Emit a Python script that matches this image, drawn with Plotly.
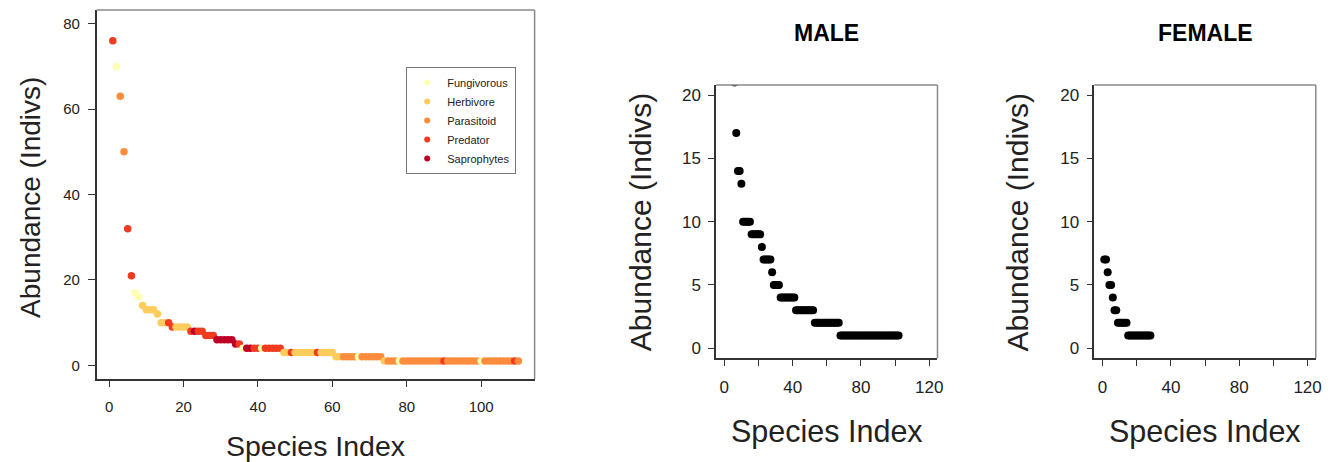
import plotly.graph_objects as go

# ---------------- data ----------------
groups = ["Fungivorous", "Herbivore", "Parasitoid", "Predator", "Saprophytes"]
group_colors = ["#FFFFB2", "#FECC5C", "#FD8D3C", "#F03B20", "#BD0026"]

# combined ranked abundance (species index 1..110)
abundance = [76, 70, 63, 50, 32, 21, 17, 16, 14, 13,
             13, 13, 12, 10, 10, 10, 9, 9, 9, 9,
             9, 8, 8, 8, 8, 7, 7, 7, 6, 6,
             6, 6, 6, 5, 5, 4, 4, 4, 4, 4,
             4, 4, 4, 4, 4, 4, 3, 3, 3, 3,
             3, 3, 3, 3, 3, 3, 3, 3, 3, 3,
             2, 2, 2, 2, 2, 2, 2, 2, 2, 2,
             2, 2, 2, 1, 1, 1, 1, 1, 1, 1,
             1, 1, 1, 1, 1, 1, 1, 1, 1, 1,
             1, 1, 1, 1, 1, 1, 1, 1, 1, 1,
             1, 1, 1, 1, 1, 1, 1, 1, 1, 1]
trophic_group = ["Predator", "Fungivorous", "Parasitoid", "Parasitoid", "Predator",
                 "Predator", "Fungivorous", "Fungivorous", "Herbivore", "Herbivore",
                 "Herbivore", "Herbivore", "Herbivore", "Herbivore", "Herbivore",
                 "Predator", "Predator", "Herbivore", "Herbivore", "Herbivore",
                 "Herbivore", "Predator", "Saprophytes", "Predator", "Predator",
                 "Predator", "Predator", "Predator", "Saprophytes", "Saprophytes",
                 "Saprophytes", "Saprophytes", "Saprophytes", "Saprophytes", "Predator",
                 "Fungivorous", "Saprophytes", "Saprophytes", "Predator", "Predator",
                 "Fungivorous", "Predator", "Predator", "Predator", "Predator",
                 "Predator", "Herbivore", "Herbivore", "Predator", "Herbivore",
                 "Herbivore", "Herbivore", "Herbivore", "Herbivore", "Herbivore",
                 "Predator", "Herbivore", "Herbivore", "Herbivore", "Herbivore",
                 "Herbivore", "Herbivore", "Parasitoid", "Parasitoid", "Parasitoid",
                 "Parasitoid", "Fungivorous", "Parasitoid", "Parasitoid", "Parasitoid",
                 "Parasitoid", "Parasitoid", "Parasitoid", "Herbivore", "Parasitoid",
                 "Parasitoid", "Parasitoid", "Fungivorous", "Parasitoid", "Parasitoid",
                 "Parasitoid", "Parasitoid", "Parasitoid", "Parasitoid", "Parasitoid",
                 "Parasitoid", "Parasitoid", "Parasitoid", "Parasitoid", "Predator",
                 "Parasitoid", "Parasitoid", "Parasitoid", "Parasitoid", "Parasitoid",
                 "Parasitoid", "Parasitoid", "Parasitoid", "Parasitoid", "Fungivorous",
                 "Parasitoid", "Parasitoid", "Parasitoid", "Parasitoid", "Parasitoid",
                 "Parasitoid", "Parasitoid", "Parasitoid", "Predator", "Parasitoid"]
species_index = list(range(1, len(abundance) + 1))

male_abundance = [40, 33, 28, 25, 23, 21, 17, 14, 14, 13,
                  10, 10, 10, 10, 10, 9, 9, 9, 9, 9,
                  9, 8, 7, 7, 7, 7, 7, 6, 5, 5,
                  5, 5, 4, 4, 4, 4, 4, 4, 4, 4,
                  4, 3, 3, 3, 3, 3, 3, 3, 3, 3,
                  3, 3, 2, 2, 2, 2, 2, 2, 2, 2,
                  2, 2, 2, 2, 2, 2, 2, 1, 1, 1,
                  1, 1, 1, 1, 1, 1, 1, 1, 1, 1,
                  1, 1, 1, 1, 1, 1, 1, 1, 1, 1,
                  1, 1, 1, 1, 1, 1, 1, 1, 1, 1,
                  1, 1]
male_index = list(range(1, len(male_abundance) + 1))

female_abundance = [7, 7, 6, 5, 5, 4, 3, 3, 2, 2,
                    2, 2, 2, 2, 1, 1, 1, 1, 1, 1,
                    1, 1, 1, 1, 1, 1, 1, 1]
female_index = list(range(1, len(female_abundance) + 1))

left_xticks = [0, 20, 40, 60, 80, 100]
left_yticks = [0, 20, 40, 60, 80]
sex_xticks = [0, 20, 40, 60, 80, 100, 120]
sex_xlabels = ["0", "", "40", "", "80", "", "120"]
sex_yticks = [0, 5, 10, 15, 20]

# ---------------- layout geometry ----------------
# the page body has an 8px margin, so the figure is made 8px smaller and
# screen pixel coordinates are converted accordingly
OFF = 8
W, H = 1339 - OFF, 462 - OFF
FONT = "Liberation Sans, Arial, sans-serif"


def px_x(p):
    return (p - OFF) / W


def px_y(p):
    return 1 - (p - OFF) / H


color_of = dict(zip(groups, group_colors))

fig = go.Figure()

# left panel points (drawn in rank order)
fig.add_trace(go.Scatter(
    x=species_index, y=abundance, mode="markers",
    marker=dict(size=7.5, color=[color_of[g] for g in trophic_group], line=dict(width=0)),
    showlegend=False, xaxis="x", yaxis="y", hoverinfo="x+y+text", text=trophic_group))

# legend entries
for g, c in zip(groups, group_colors):
    fig.add_trace(go.Scatter(x=[None], y=[None], mode="markers", name=g,
                             marker=dict(size=6, color=c), xaxis="x", yaxis="y"))

fig.add_trace(go.Scatter(x=male_index, y=male_abundance, mode="markers",
                         marker=dict(size=8, color="black"), showlegend=False,
                         xaxis="x2", yaxis="y2"))
fig.add_trace(go.Scatter(x=female_index, y=female_abundance, mode="markers",
                         marker=dict(size=8, color="black"), showlegend=False,
                         xaxis="x3", yaxis="y3"))


def axis(domain, rng, tickvals, ticktext=None, size=15, anchor=None, standoff=4, ticklen=6):
    d = dict(domain=domain, range=rng, tickvals=tickvals, showline=True,
             linecolor="#333", linewidth=1.5, ticks="outside", ticklen=ticklen,
             tickwidth=1.2, tickcolor="#333", showgrid=False, zeroline=False,
             tickfont=dict(family=FONT, size=size, color="#222"), anchor=anchor,
             ticklabelstandoff=standoff, fixedrange=True)
    if ticktext is not None:
        d["ticktext"] = ticktext
    return d


L_dom_x = [px_x(97), px_x(537)]
L_dom_y = [px_y(379), px_y(10)]
M_dom_x = [px_x(719.3), px_x(941.7)]
F_dom_x = [px_x(1099.3), px_x(1321.7)]
S_dom_y = [px_y(358.3), px_y(85)]

fig.update_layout(
    width=W, height=H, autosize=False,
    margin=dict(l=0, r=0, t=0, b=0),
    paper_bgcolor="white", plot_bgcolor="white",
    font=dict(family=FONT, color="#222"),
    xaxis=axis(L_dom_x, [-3.36, 114.36], left_xticks, size=15, anchor="y", standoff=7),
    yaxis=axis(L_dom_y, [-3.2, 83.2], left_yticks, size=15, anchor="x", standoff=5, ticklen=7),
    xaxis2=axis(M_dom_x, [-4.8, 124.8], sex_xticks, sex_xlabels, size=17, anchor="y2", standoff=7),
    yaxis2=axis(S_dom_y, [-0.8, 20.8], sex_yticks, size=17, anchor="x2", standoff=4),
    xaxis3=axis(F_dom_x, [-4.8, 124.8], sex_xticks, sex_xlabels, size=17, anchor="y3", standoff=7),
    yaxis3=axis(S_dom_y, [-0.8, 20.8], sex_yticks, size=17, anchor="x3", standoff=4),
    legend=dict(x=px_x(408), y=px_y(67), xanchor="left", yanchor="top",
                bgcolor="white", bordercolor="#777", borderwidth=1,
                font=dict(family=FONT, size=11, color="#222"),
                itemwidth=30, tracegroupgap=0),
)

# top/right frame lines
shapes = []
for xa, ya in [("x", "y"), ("x2", "y2"), ("x3", "y3")]:
    shapes.append(dict(type="line", xref=f"{xa} domain", yref=f"{ya} domain",
                       x0=0, x1=1, y0=1, y1=1, line=dict(color="#8a8a8a", width=1.5)))
    shapes.append(dict(type="line", xref=f"{xa} domain", yref=f"{ya} domain",
                       x0=1, x1=1, y0=0, y1=1, line=dict(color="#8a8a8a", width=1.5)))
fig.update_layout(shapes=shapes)


def label(text, x, y, size, angle=0, color="#222"):
    return dict(text=text, x=px_x(x), y=px_y(y), xref="paper", yref="paper",
                xanchor="center", yanchor="middle", textangle=angle, showarrow=False,
                font=dict(family=FONT, size=size, color=color))


ann = [
    label("<b>MALE</b>", 830.5, 33, 23, color="black"),
    label("<b>FEMALE</b>", 1210.5, 33, 23, color="black"),
    label("Abundance (Indivs)", 30, 197, 28, angle=-90),
    label("Species Index", 317, 446, 28.5),
    label("Abundance (Indivs)", 643, 222, 30, angle=-90),
    label("Species Index", 830.5, 431, 30.5),
    label("Abundance (Indivs)", 1022, 222, 30, angle=-90),
    label("Species Index", 1210.5, 431, 30.5),
]
fig.update_layout(annotations=ann)

fig.write_html("out.html")
